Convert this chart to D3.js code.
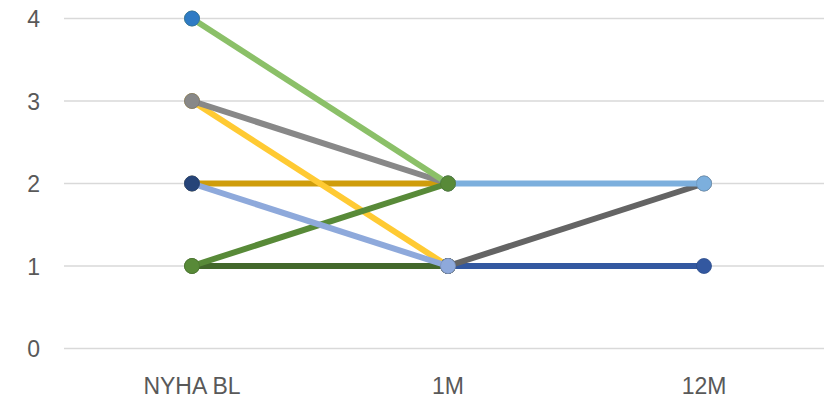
<!DOCTYPE html>
<html>
<head>
<meta charset="utf-8">
<script src="https://cdn.jsdelivr.net/npm/d3@7"></script>
<style>
  html, body { margin: 0; padding: 0; background: #ffffff; }
  svg { display: block; }
</style>
</head>
<body>
<svg id="chart" width="825" height="399"></svg>
<script>
// ---- data ----
const categories = ["NYHA BL", "1M", "12M"];
const yTicks = [0, 1, 2, 3, 4];

// each series: values at [NYHA BL, 1M, 12M]; null = no value
const seriesGold      = [2, 2, null];
const seriesYellow    = [3, 1, null];
const seriesGray      = [3, 2, null];
const seriesLightGreen= [4, 2, null];
const seriesBlueDot   = [4, null, null];
const seriesDarkGreen = [1, 1, null];
const seriesBlue12    = [null, 1, 1];
const seriesDarkGray  = [null, 1, 2];
const seriesLightBlue = [null, 2, 2];
const seriesGreen     = [1, 2, null];
const seriesLavender  = [2, 1, null];
const seriesNavy      = [2, null, null];

const seriesValues = [seriesGold, seriesYellow, seriesGray, seriesLightGreen, seriesBlueDot,
  seriesDarkGreen, seriesBlue12, seriesDarkGray, seriesLightBlue, seriesGreen, seriesLavender, seriesNavy];
const seriesColors = ["#CF9D0B", "#FFCA33", "#888888", "#8BC068", "#2E7BC4",
  "#43682B", "#3358A0", "#646464", "#7CAFDD", "#588A38", "#8EA9DB", "#264478"];

// ---- layout ----
const svg = d3.select("#chart");
const x = d3.scaleBand().domain(categories).range([64, 832]);
const y = d3.scaleLinear().domain([0, 4]).range([348.5, 18.5]);
const cx = c => x(c) + x.bandwidth() / 2;

// gridlines
svg.append("g").selectAll("line").data(yTicks).join("line")
  .attr("x1", 64).attr("x2", 824)
  .attr("y1", d => y(d)).attr("y2", d => y(d))
  .attr("stroke", "#d9d9d9").attr("stroke-width", 1.5);

// y axis labels
const yAxis = d3.axisLeft(y).tickValues(yTicks).tickSize(0).tickPadding(0).tickFormat(d3.format("d"));
const yg = svg.append("g").attr("transform", "translate(40,0)").call(yAxis);
yg.select(".domain").remove();
yg.selectAll("text")
  .attr("font-family", "Liberation Sans, Arial, sans-serif")
  .attr("font-size", 23).attr("fill", "#595959").attr("dy", "0.36em");

// x axis labels
const xAxis = d3.axisBottom(x).tickSize(0).tickPadding(0);
const xg = svg.append("g").attr("transform", "translate(0,394)").call(xAxis);
xg.select(".domain").remove();
xg.selectAll("text")
  .attr("font-family", "Liberation Sans, Arial, sans-serif")
  .attr("font-size", 23).attr("fill", "#595959").attr("dy", "0");

// series
const line = d3.line()
  .defined(d => d.v !== null)
  .x(d => cx(d.c)).y(d => y(d.v));

seriesValues.forEach((vals, i) => {
  const pts = vals.map((v, j) => ({ c: categories[j], v }));
  const g = svg.append("g");
  g.append("path").datum(pts)
    .attr("d", line)
    .attr("fill", "none")
    .attr("stroke", seriesColors[i])
    .attr("stroke-width", 6)
    .attr("stroke-linejoin", "round");
  g.selectAll("circle").data(pts.filter(p => p.v !== null)).join("circle")
    .attr("cx", d => cx(d.c)).attr("cy", d => y(d.v))
    .attr("r", 7.5)
    .attr("fill", seriesColors[i])
    .attr("stroke", d3.color(seriesColors[i]).darker(0.4))
    .attr("stroke-width", 0.8);
});
</script>
</body>
</html>
